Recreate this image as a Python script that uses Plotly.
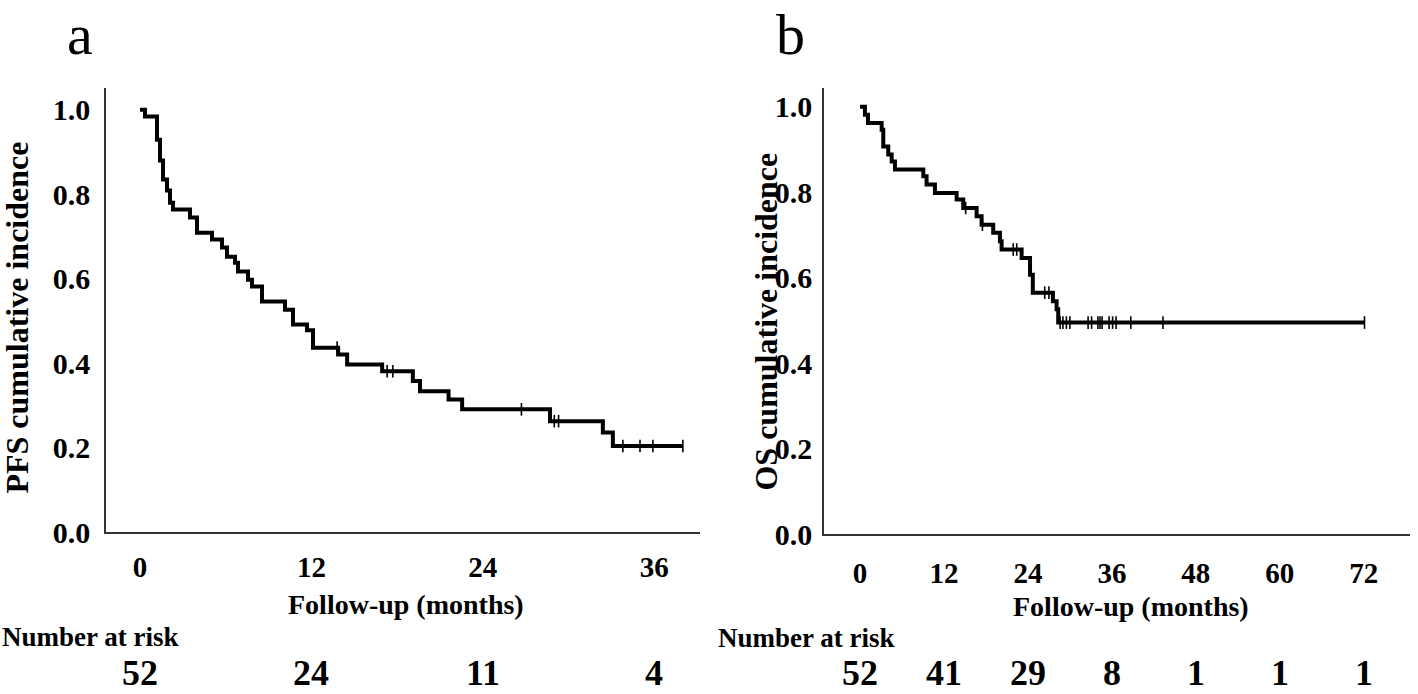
import numpy as np
import plotly.graph_objects as go

# ---------------- data ----------------
# Panel a: PFS Kaplan-Meier steps (months, survival)
pfs_times = [0, 0.35, 1.19, 1.4, 1.61, 1.89, 2.1, 2.31, 3.5, 3.99, 5.04, 5.74, 6.09, 6.65, 6.86,
             7.56, 7.84, 8.54, 10.15, 10.71, 11.69, 12.11, 13.87, 14.5, 16.95, 19.1, 19.6, 21.6,
             22.55, 28.7, 32.4, 33.1]
pfs_surv = [1.0, 0.984, 0.929, 0.88, 0.835, 0.809, 0.780, 0.764, 0.745, 0.709, 0.693, 0.674, 0.652,
            0.638, 0.617, 0.598, 0.582, 0.546, 0.527, 0.492, 0.478, 0.437, 0.421, 0.397, 0.381,
            0.358, 0.334, 0.314, 0.291, 0.263, 0.236, 0.204]
pfs_censor = [13.8, 17.3, 17.7, 26.7, 29.0, 29.3, 33.8, 35.0, 35.9, 38.0]

# Panel b: OS Kaplan-Meier steps
os_times = [0, 0.71, 1.14, 3.1, 3.33, 4.04, 4.53, 5.0, 9.05, 9.52, 10.71, 13.81, 14.76, 16.67,
            17.38, 19.04, 20.0, 20.24, 23.1, 24.3, 24.7, 27.57, 28.1, 28.33]
os_surv = [1.0, 0.981, 0.962, 0.946, 0.907, 0.888, 0.872, 0.853, 0.837, 0.818, 0.798, 0.783,
           0.763, 0.744, 0.724, 0.705, 0.685, 0.666, 0.646, 0.607, 0.565, 0.545, 0.526, 0.495]
os_censor = [15.1, 17.5, 21.9, 22.4, 26.4, 27.0, 28.6, 29.0, 29.5, 30.0, 32.6, 33.1, 34.0, 34.3,
             34.6, 35.6, 36.1, 36.6, 38.7, 43.3, 72.1]

pfs_ticks = [0, 12, 24, 36]
pfs_risk = ["52", "24", "11", "4"]
os_ticks = [0, 12, 24, 36, 48, 60, 72]
os_risk = ["52", "41", "29", "8", "1", "1", "1"]
y_ticks = [0, 0.2, 0.4, 0.6, 0.8, 1.0]
y_labels = ["0.0", "0.2", "0.4", "0.6", "0.8", "1.0"]

FONT = "Liberation Serif"
W, H = 1418, 694


def step_value(times, surv, t):
    idx = np.searchsorted(np.array(times), t, side="right") - 1
    return [surv[i] for i in idx]


def px_x(p):
    return p / W


def px_y(p):
    return 1 - p / H


fig = go.Figure()

for times, surv, cens, xa, ya in [
    (pfs_times, pfs_surv, pfs_censor, "x", "y"),
    (os_times, os_surv, os_censor, "x2", "y2"),
]:
    lx = list(times) + [max(cens)]
    ly = list(surv) + [surv[-1]]
    fig.add_trace(go.Scatter(x=lx, y=ly, mode="lines", line=dict(color="black", width=4, shape="hv"),
                             xaxis=xa, yaxis=ya, showlegend=False, hoverinfo="skip"))
    fig.add_trace(go.Scatter(x=cens, y=step_value(times, surv, cens), mode="markers",
                             marker=dict(symbol="line-ns-open", size=9, color="black",
                                         line=dict(color="black", width=1.6)),
                             xaxis=xa, yaxis=ya, showlegend=False, hoverinfo="skip"))

xtickfont = dict(family=FONT, size=29, color="black")
ytickfont = dict(family=FONT, size=30, color="black")
titlefont = dict(family=FONT, size=28, color="black")

common_x = dict(showgrid=False, zeroline=False, showline=True, linecolor="#333333", linewidth=1.5,
                ticks="", tickfont=xtickfont, tickmode="array")
common_y = dict(showgrid=False, zeroline=False, showline=True, linecolor="#333333", linewidth=1.5,
                ticks="", tickfont=ytickfont, tickmode="array", tickvals=y_ticks,
                ticktext=[f"<b>{v}</b>" for v in y_labels])

fig.update_layout(
    width=W, height=H,
    margin=dict(l=0, r=0, t=0, b=0),
    plot_bgcolor="white", paper_bgcolor="white",
    font=dict(family=FONT, color="black"),
    xaxis=dict(domain=[px_x(106), px_x(700)], range=[-2.38, 39.2], anchor="y",
               tickvals=pfs_ticks, ticktext=[f"<b>{t}</b>" for t in pfs_ticks],
               ticklabelstandoff=8, **common_x),
    yaxis=dict(domain=[px_y(533), px_y(88)], range=[0, 1.052], anchor="x",
               ticklabelstandoff=8, **common_y),
    xaxis2=dict(domain=[px_x(824), px_x(1410)], range=[-5.14, 78.6], anchor="y2",
                tickvals=os_ticks, ticktext=[f"<b>{t}</b>" for t in os_ticks],
                ticklabelstandoff=12, **common_x),
    yaxis2=dict(domain=[px_y(535), px_y(88)], range=[0, 1.044], anchor="x2",
                ticklabelstandoff=4, **common_y),
)

ann = []
# panel letters
ann.append(dict(text="a", x=px_x(80), y=1, xref="paper", yref="paper", showarrow=False,
                font=dict(family=FONT, size=58, color="black"), xanchor="center", yanchor="top", yshift=0))
ann.append(dict(text="b", x=px_x(790), y=1, xref="paper", yref="paper", showarrow=False,
                font=dict(family=FONT, size=58, color="black"), xanchor="center", yanchor="top", yshift=0))
# y titles
ann.append(dict(text="<b>PFS cumulative incidence</b>", x=px_x(17), y=px_y(318), xref="paper", yref="paper",
                showarrow=False, textangle=-90, font=dict(family=FONT, size=32, color="black"),
                xanchor="center", yanchor="middle"))
ann.append(dict(text="<b>OS cumulative incidence</b>", x=px_x(766), y=px_y(322), xref="paper", yref="paper",
                showarrow=False, textangle=-90, font=dict(family=FONT, size=32, color="black"),
                xanchor="center", yanchor="middle"))
# x titles
ann.append(dict(text="<b>Follow-up (months)</b>", x=px_x(406), y=px_y(605), xref="paper", yref="paper",
                showarrow=False, font=titlefont, xanchor="center", yanchor="middle"))
ann.append(dict(text="<b>Follow-up (months)</b>", x=px_x(1131), y=px_y(607), xref="paper", yref="paper",
                showarrow=False, font=titlefont, xanchor="center", yanchor="middle"))
# number at risk
ann.append(dict(text="<b>Number at risk</b>", x=px_x(0), y=px_y(638), xref="paper", yref="paper",
                showarrow=False, font=dict(family=FONT, size=27, color="black"), xanchor="left", yanchor="middle"))
ann.append(dict(text="<b>Number at risk</b>", x=px_x(716), y=px_y(639), xref="paper", yref="paper",
                showarrow=False, font=dict(family=FONT, size=27, color="black"), xanchor="left", yanchor="middle"))
for t, n in zip(pfs_ticks, pfs_risk):
    ann.append(dict(text=f"<b>{n}</b>", x=t, y=px_y(674), xref="x", yref="paper", showarrow=False,
                    font=dict(family=FONT, size=36, color="black"), xanchor="center", yanchor="middle"))
for t, n in zip(os_ticks, os_risk):
    ann.append(dict(text=f"<b>{n}</b>", x=t, y=px_y(674), xref="x2", yref="paper", showarrow=False,
                    font=dict(family=FONT, size=36, color="black"), xanchor="center", yanchor="middle"))
fig.update_layout(annotations=ann)

post = (
    "document.documentElement.style.margin='0px';"
    "document.body.style.margin='0px';"
    "document.body.style.overflow='hidden';"
    "var gd=document.getElementById('{plot_id}');"
    "gd.style.height='710px';"
    "Plotly.relayout(gd,{height:710});"
)
fig.write_html("out.html", config={"displayModeBar": False}, post_script=post)
